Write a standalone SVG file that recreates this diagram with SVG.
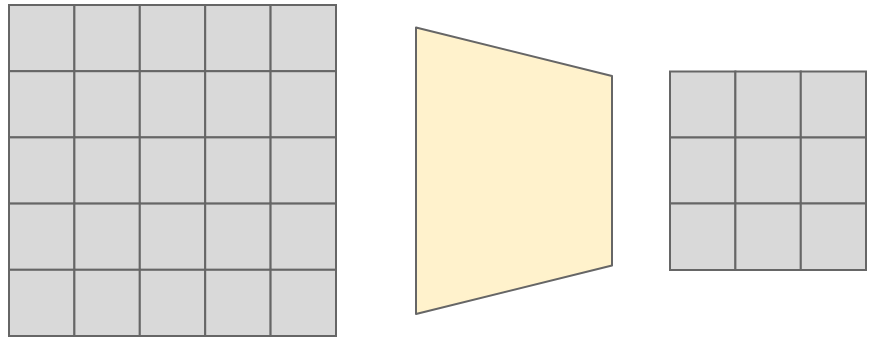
<svg xmlns="http://www.w3.org/2000/svg" width="869" height="339" viewBox="0 0 869 339">
<style>
.cell{fill:#d9d9d9;stroke:#666666;stroke-width:2}
.trap{fill:#fff2cc;stroke:#666666;stroke-width:2;stroke-linejoin:round}
</style>
<g id="input-grid">
<rect class="cell" x="9" y="5" width="65.4" height="66.2"/>
<rect class="cell" x="74.4" y="5" width="65.4" height="66.2"/>
<rect class="cell" x="139.8" y="5" width="65.4" height="66.2"/>
<rect class="cell" x="205.2" y="5" width="65.4" height="66.2"/>
<rect class="cell" x="270.6" y="5" width="65.4" height="66.2"/>
<rect class="cell" x="9" y="71.2" width="65.4" height="66.2"/>
<rect class="cell" x="74.4" y="71.2" width="65.4" height="66.2"/>
<rect class="cell" x="139.8" y="71.2" width="65.4" height="66.2"/>
<rect class="cell" x="205.2" y="71.2" width="65.4" height="66.2"/>
<rect class="cell" x="270.6" y="71.2" width="65.4" height="66.2"/>
<rect class="cell" x="9" y="137.4" width="65.4" height="66.2"/>
<rect class="cell" x="74.4" y="137.4" width="65.4" height="66.2"/>
<rect class="cell" x="139.8" y="137.4" width="65.4" height="66.2"/>
<rect class="cell" x="205.2" y="137.4" width="65.4" height="66.2"/>
<rect class="cell" x="270.6" y="137.4" width="65.4" height="66.2"/>
<rect class="cell" x="9" y="203.6" width="65.4" height="66.2"/>
<rect class="cell" x="74.4" y="203.6" width="65.4" height="66.2"/>
<rect class="cell" x="139.8" y="203.6" width="65.4" height="66.2"/>
<rect class="cell" x="205.2" y="203.6" width="65.4" height="66.2"/>
<rect class="cell" x="270.6" y="203.6" width="65.4" height="66.2"/>
<rect class="cell" x="9" y="269.8" width="65.4" height="66.2"/>
<rect class="cell" x="74.4" y="269.8" width="65.4" height="66.2"/>
<rect class="cell" x="139.8" y="269.8" width="65.4" height="66.2"/>
<rect class="cell" x="205.2" y="269.8" width="65.4" height="66.2"/>
<rect class="cell" x="270.6" y="269.8" width="65.4" height="66.2"/>
</g>
<g id="filter">
<polygon class="trap" points="416,27.5 612,76 612,265.5 416,314"/>
</g>
<g id="output-grid">
<rect class="cell" x="670" y="71.5" width="65.4" height="66"/>
<rect class="cell" x="735.4" y="71.5" width="65.4" height="66"/>
<rect class="cell" x="800.8" y="71.5" width="65.2" height="66"/>
<rect class="cell" x="670" y="137.5" width="65.4" height="66"/>
<rect class="cell" x="735.4" y="137.5" width="65.4" height="66"/>
<rect class="cell" x="800.8" y="137.5" width="65.2" height="66"/>
<rect class="cell" x="670" y="203.5" width="65.4" height="66.5"/>
<rect class="cell" x="735.4" y="203.5" width="65.4" height="66.5"/>
<rect class="cell" x="800.8" y="203.5" width="65.2" height="66.5"/>
</g>
<g id="connectors"/>
</svg>
